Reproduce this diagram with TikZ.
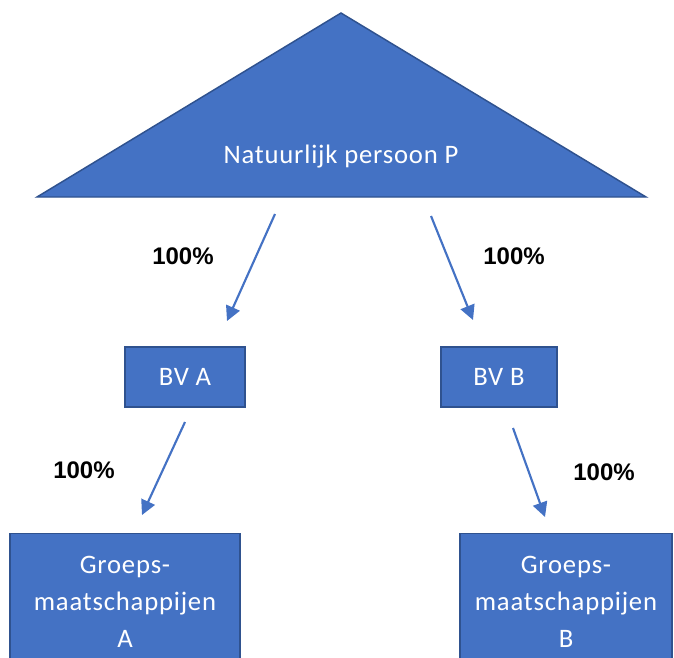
\documentclass[tikz,border=0pt]{standalone}
\usepackage{fontspec}
\setmainfont[LetterSpace=3]{Carlito}
\newfontfamily\labelfont{Liberation Sans}
\usetikzlibrary{arrows.meta}

\definecolor{boxblue}{HTML}{4472C4}
\definecolor{boxedge}{HTML}{2F528F}

\tikzset{
  entity/.style={draw=boxedge, fill=boxblue, line width=1.1pt, text=white,
    align=center, font=\fontsize{20}{27}\selectfont, inner sep=0pt},
  share/.style={-{Triangle[length=11pt,width=11pt]}, boxblue, line width=1.6pt},
  pct/.style={font=\labelfont\bfseries\fontsize{18}{20}\selectfont}
}

\begin{document}
\begin{tikzpicture}[x=0.75pt, y=-0.75pt]
  \useasboundingbox (0, 0) rectangle (674, 657);
  \clip (0, 0) rectangle (674, 657);

  % Top person
  \draw[draw=boxedge, fill=boxblue, line width=1.1pt] (341, 13) -- (646, 197) -- (37, 197) -- cycle;
  \node[text=white, font=\fontsize{20}{24}\selectfont] (persoon) at (341, 157) {Natuurlijk persoon P};

  % Holding companies
  \node[entity, minimum width=90pt, minimum height=45pt] (bva) at (185, 377) {BV A};
  \node[entity, minimum width=87pt, minimum height=45pt] (bvb) at (499, 377) {BV B};

  % Group companies (cut off at the bottom)
  \node[entity, minimum width=172.5pt, minimum height=120pt, anchor=north] (groepa) at (125, 533) {};
  \node[entity, minimum width=159pt, minimum height=120pt, anchor=north] (groepb) at (566, 533) {};
  \node[text=white, align=center, font=\fontsize{20}{28}\selectfont, anchor=north] (txta) at (125, 551) {Groeps-\\maatschappijen\\A};
  \node[text=white, align=center, font=\fontsize{20}{28}\selectfont, anchor=north] (txtb) at (566, 551) {Groeps-\\maatschappijen\\B};

  % Arrow ends
  \coordinate (pa) at (275, 214);
  \coordinate (pb) at (431, 216);
  \coordinate (bvatop) at (227, 321);
  \coordinate (bvbtop) at (473, 320);
  \coordinate (bvabot) at (185, 422);
  \coordinate (bvbbot) at (513, 428);
  \coordinate (groepatop) at (142, 515);
  \coordinate (groepbtop) at (545, 517);

  % Shareholdings
  \draw[share] (pa) -- (bvatop);
  \draw[share] (pb) -- (bvbtop);
  \draw[share] (bvabot) -- (groepatop);
  \draw[share] (bvbbot) -- (groepbtop);

  \node[pct] (pcta) at (183, 256) {100\%};
  \node[pct] (pctb) at (514, 256) {100\%};
  \node[pct] (pctga) at (84, 470) {100\%};
  \node[pct] (pctgb) at (604, 472) {100\%};
\end{tikzpicture}
\end{document}
